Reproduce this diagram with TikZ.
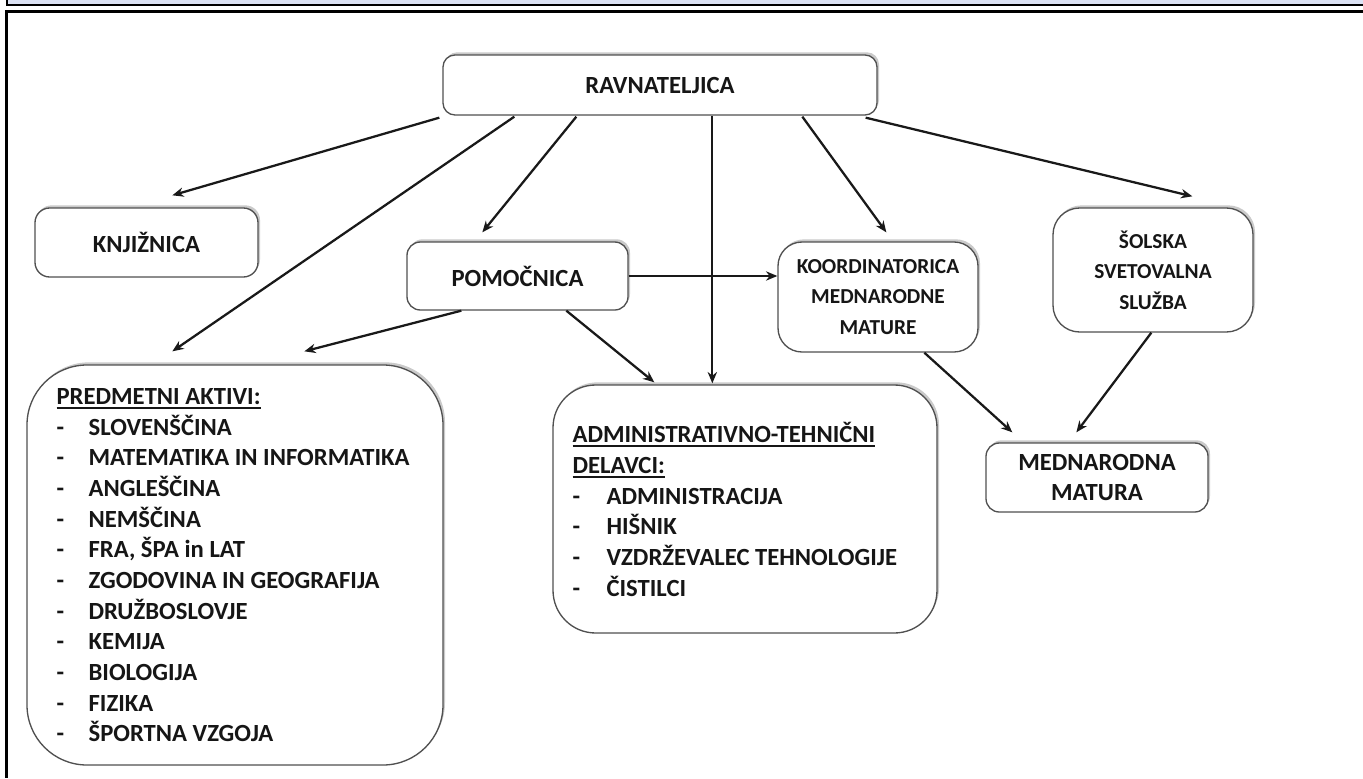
\documentclass[tikz,border=0pt]{standalone}
\usepackage{fontspec}
\setmainfont{Carlito}
\usetikzlibrary{arrows.meta,calc,shadows}
\definecolor{stripfill}{HTML}{DCE2F4}
\definecolor{txt}{HTML}{161616}
\definecolor{edge}{HTML}{505050}
\newcommand{\myul}[1]{\setbox0\hbox{#1}\rlap{\rule[-3.2pt]{\wd0}{1.4pt}}\box0}
\newcommand{\itm}[2][24pt]{\makebox[#1][l]{-}#2}
\tikzset{
  box/.style={draw=edge, line width=1pt, fill=white, rounded corners=#1,
    drop shadow={shadow xshift=1.5pt,shadow yshift=2pt,opacity=0.35,fill=black!60},
    font=\fontsize{18.5}{23}\selectfont\bfseries, text=txt, align=center, inner sep=2pt},
  box/.default=9pt,
  smallfont/.style={font=\fontsize{16}{23}\selectfont\bfseries},
  arr/.style={-{Stealth[length=8.5pt,width=7pt]}, line width=1.7pt, draw=black!90},
  listtxt/.style={anchor=north west, inner sep=0pt, align=left,
    font=\fontsize{18.5}{23}\selectfont\bfseries, text=txt}
}
\begin{document}
\begin{tikzpicture}[x=0.75pt,y=-0.75pt]
\useasboundingbox (0,0) rectangle (1363,778);
% frame
\fill[stripfill] (6.5,0) rectangle (1363,5);
\draw[line width=1.5pt] (6.5,0) -- (6.5,5) -- (1363,5);
\draw[line width=2.2pt] (1363,11.5) -- (6.5,11.5) -- (6.5,778);
% boxes
\node[box=9pt, minimum width=325.5pt, minimum height=45pt] (ravn) at (660,85) {RAVNATELJICA};
\node[box=11pt, minimum width=167.25pt, minimum height=51.75pt] (knj) at (146.5,242.5) {KNJIŽNICA};
\node[box=10pt, minimum width=165.75pt, minimum height=51pt] (pom) at (517.5,276) {POMOČNICA};
\node[box=18pt, smallfont, minimum width=150pt, minimum height=82.5pt] (koord) at (878,297) {KOORDINATORICA\\MEDNARODNE\\MATURE};
\node[box=20pt, smallfont, minimum width=150pt, minimum height=93pt] (sol) at (1153,270) {ŠOLSKA\\SVETOVALNA\\SLUŽBA};
\node[box=10pt, minimum width=166.5pt, minimum height=51.75pt] (med) at (1097,477.5) {MEDNARODNA\\MATURA};
\node[box=45pt, minimum width=312pt, minimum height=300pt] (pred) at (235,565) {};
\node[box=32pt, minimum width=288pt, minimum height=186pt] (adm) at (745,509) {};
% list texts
\node[listtxt] (predtxt) at ($(pred.north west)+(30,20)$) {\rule{0pt}{15pt}\myul{PREDMETNI AKTIVI:}\\
\itm{SLOVENŠČINA}\\
\itm{MATEMATIKA IN INFORMATIKA}\\
\itm{ANGLEŠČINA}\\
\itm{NEMŠČINA}\\
\itm{FRA, ŠPA in LAT}\\
\itm{ZGODOVINA IN GEOGRAFIJA}\\
\itm{DRUŽBOSLOVJE}\\
\itm{KEMIJA}\\
\itm{BIOLOGIJA}\\
\itm{FIZIKA}\\
\itm{ŠPORTNA VZGOJA}};
\node[listtxt] (admtxt) at ($(adm.north west)+(20,38)$) {\rule{0pt}{15pt}\myul{ADMINISTRATIVNO-TEHNIČNI}\\
\myul{DELAVCI:}\\
\itm[25.5pt]{ADMINISTRACIJA}\\
\itm[25.5pt]{HIŠNIK}\\
\itm[25.5pt]{VZDRŽEVALEC TEHNOLOGIJE}\\
\itm[25.5pt]{ČISTILCI}};
% connectors
\draw[arr] ($(ravn.south west)+(-3,2)$) -- ($(knj.north west)+(138,-12)$);
\draw[arr] ($(ravn.south west)+(72,1)$) -- ($(pred.north west)+(146,-13)$);
\draw[arr] ($(ravn.south west)+(134,1)$) -- ($(pom.north west)+(76,-9)$);
\draw[arr] ($(ravn.south west)+(270,0)$) -- ($(adm.north west)+(160,-1)$);
\draw[arr] ($(ravn.south west)+(360,1)$) -- ($(koord.north west)+(109,-9)$);
\draw[arr] ($(ravn.south east)+(-12,2)$) -- ($(sol.north west)+(140,-11)$);
\draw[arr] (pom.east) -- (pom.east -| koord.west);
\draw[arr] ($(pom.south west)+(55,0)$) -- ($(pred.north west)+(278,-13)$);
\draw[arr] ($(pom.south west)+(160,0)$) -- ($(adm.north west)+(102,-2)$);
\draw[arr] ($(koord.south west)+(147,0)$) -- ($(med.north west)+(27,-10)$);
\draw[arr] ($(sol.south west)+(99,0)$) -- ($(med.north west)+(91,-10)$);
\end{tikzpicture}
\end{document}
